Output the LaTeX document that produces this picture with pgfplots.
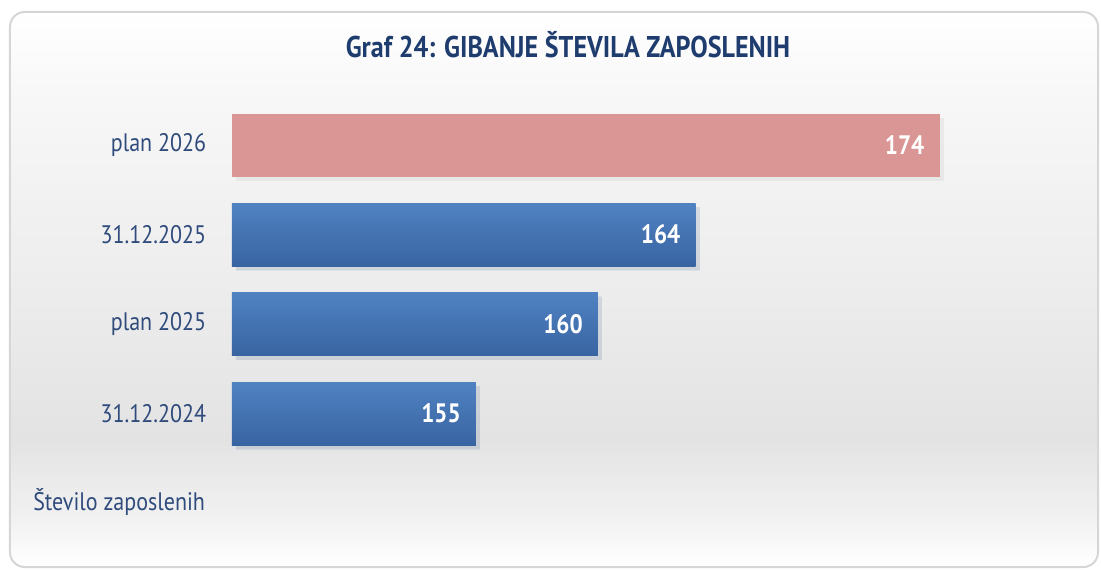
\documentclass[border=0pt]{standalone}
\usepackage{pgfplots}
\pgfplotsset{compat=1.18}
\usepackage{fontspec}
\setmainfont[FakeStretch=0.87]{PT Sans}
\usetikzlibrary{shadows}
\definecolor{pinkbar}{HTML}{D99694}
\definecolor{bluetop}{HTML}{5082C2}
\definecolor{bluebot}{HTML}{3964A2}
\definecolor{lbl}{HTML}{2F4B7C}
\definecolor{ttl}{HTML}{1F3C6E}
\definecolor{bgA}{HTML}{F7F7F7}
\definecolor{bgB}{HTML}{ECECEC}
\definecolor{bgC}{HTML}{E3E3E3}
\definecolor{bgD}{HTML}{F1F1F1}
\definecolor{frame}{HTML}{D6D6D6}
\pgfdeclareverticalshading{bgshade}{100bp}{color(0bp)=(white); color(25bp)=(white); color(29.5bp)=(bgD); color(36.6bp)=(bgC); color(49.2bp)=(bgB); color(67bp)=(bgA); color(75bp)=(white); color(100bp)=(white)}
\begin{document}
\begin{tikzpicture}
\useasboundingbox (-174pt,-83.06pt) rectangle (651.75pt,343.69pt);
\shade[shading=bgshade, rounded corners=11pt] (-166.5pt,-81.56pt) rectangle (649.5pt,334.69pt);
\draw[frame, line width=1.5pt, rounded corners=11pt] (-166.5pt,-81.56pt) rectangle (649.5pt,334.69pt);
\begin{axis}[
  at={(0pt,0pt)}, anchor=south west,
  scale only axis, width=640.5pt, height=268.5pt,
  xmin=145, xmax=180, ymin=-0.5, ymax=3.5,
  xbar, bar width=47.25pt, bar shift=0pt,
  axis lines=left, axis line style={draw=none},
  tick style={draw=none}, xtick=\empty,
  ytick={0,1,2,3},
  yticklabels={31.12.2024, plan 2025, 31.12.2025, plan 2026},
  yticklabel style={font=\fontsize{19pt}{21pt}\selectfont, text=lbl, inner sep=0pt, xshift=-17pt},
  /pgf/number format/assume math mode=true,
  nodes near coords,
  nodes near coords align={anchor=east},
  nodes near coords style={font=\bfseries\fontsize{20pt}{22pt}\selectfont, text=white, inner sep=0pt, xshift=-11.25pt},
  clip=false,
  bluebar/.style={draw=none, top color=bluetop, bottom color=bluebot,
    drop shadow={shadow xshift=3pt, shadow yshift=-3pt, opacity=0.10}},
]
\addplot[bluebar] coordinates {(155,0)};
\addplot[bluebar] coordinates {(160,1)};
\addplot[bluebar] coordinates {(164,2)};
\addplot[draw=none, fill=pinkbar,
  drop shadow={shadow xshift=3pt, shadow yshift=-3pt, opacity=0.10}]
  coordinates {(174,3)};
\end{axis}
\node[font=\bfseries\fontsize{22.5pt}{25pt}\selectfont, text=ttl] at (252pt,309.94pt) {Graf 24: GIBANJE ŠTEVILA ZAPOSLENIH};
\node[anchor=base west, inner sep=0pt, font=\fontsize{19pt}{21pt}\selectfont, text=lbl] at (-149.25pt,-38.81pt) {Število zaposlenih};
\end{tikzpicture}
\end{document}
